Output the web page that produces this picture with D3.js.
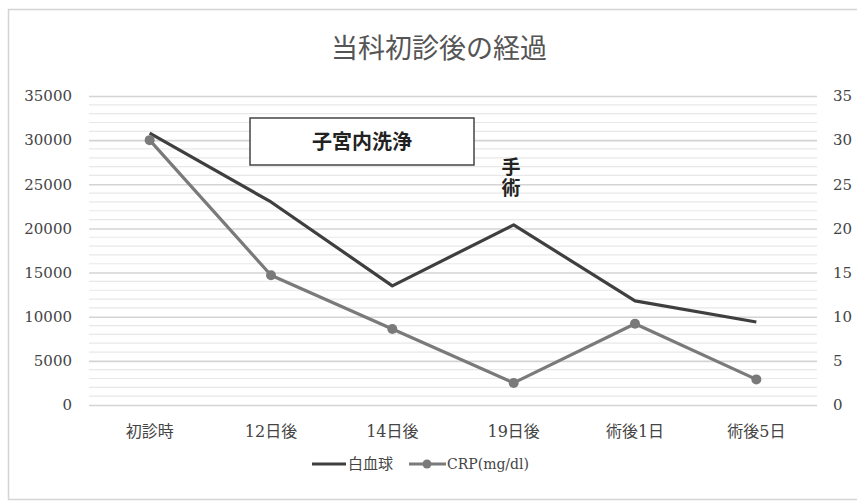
<!DOCTYPE html>
<html>
<head>
<meta charset="utf-8">
<script src="https://cdn.jsdelivr.net/npm/d3@7"></script>
<style>
body { margin: 0; background: #fff; }
text { font-family: "DejaVu Serif", "Noto Sans CJK JP", serif; }
</style>
</head>
<body>
<script>
//Width and height
var w = 857;
var h = 502;

var categories = ["初診時", "12日後", "14日後", "19日後", "術後1日", "術後5日"];
var wbc = [30800, 23000, 13500, 20400, 11800, 9400];
var crp = [30.0, 14.7, 8.6, 2.5, 9.2, 2.9];
var leftTicks = [0, 5000, 10000, 15000, 20000, 25000, 30000, 35000];
var rightTicks = [0, 5, 10, 15, 20, 25, 30, 35];
var minorTicks = d3.range(0, 35001, 1000);

var x = d3.scaleBand()
    .domain(categories)
    .range([89, 817]);

var yL = d3.scaleLinear()
    .domain([0, 35000])
    .range([405, 96]);

var yR = d3.scaleLinear()
    .domain([0, 35])
    .range([405, 96]);

var svg = d3.select("body")
            .append("svg")
            .attr("width", w)
            .attr("height", h);

//outer chart border
svg.append("rect")
   .attr("x", 8.5).attr("y", 9.5)
   .attr("width", 860).attr("height", 490)
   .attr("fill", "#fff")
   .attr("stroke", "#d4d4d4")
   .attr("stroke-width", 1.5);

//minor gridlines
svg.append("g")
   .selectAll("line")
   .data(minorTicks.filter(function(d){ return d % 5000 != 0; }))
   .enter()
   .append("line")
   .attr("x1", 89).attr("x2", 817)
   .attr("y1", function(d){ return yL(d); })
   .attr("y2", function(d){ return yL(d); })
   .attr("stroke", "#e8e8e8")
   .attr("stroke-width", 1.2);

//left axis with major gridlines
var axL = svg.append("g")
   .attr("transform", "translate(89,0)")
   .call(d3.axisLeft(yL).tickValues(leftTicks).tickFormat(d3.format("d")).tickSize(-728).tickPadding(17));
axL.select(".domain").remove();
axL.selectAll("line").attr("stroke", "#d4d4d4").attr("stroke-width", 1.6);
axL.selectAll("text")
   .attr("fill", "#444")
   .style("font-size", "15px");

//right axis labels
var axR = svg.append("g")
   .attr("transform", "translate(817,0)")
   .call(d3.axisRight(yR).tickValues(rightTicks).tickSize(0).tickPadding(16));
axR.select(".domain").remove();
axR.selectAll("text")
   .attr("fill", "#444")
   .style("font-size", "15px");

//category labels
var axX = svg.append("g")
   .attr("transform", "translate(0,405)")
   .call(d3.axisBottom(x).tickSize(0).tickPadding(21));
axX.select(".domain").remove();
axX.selectAll("text")
   .attr("fill", "#444")
   .style("font-size", "16px");

var cx = function(d, i){ return x(categories[i]) + x.bandwidth() / 2; };

//白血球 line
svg.append("path")
   .datum(wbc)
   .attr("fill", "none")
   .attr("stroke", "#3f3f3f")
   .attr("stroke-width", 3.2)
   .attr("stroke-linejoin", "round")
   .attr("d", d3.line().x(cx).y(function(d){ return yL(d); }));

//CRP line
svg.append("path")
   .datum(crp)
   .attr("fill", "none")
   .attr("stroke", "#7a7a7a")
   .attr("stroke-width", 3.2)
   .attr("stroke-linejoin", "round")
   .attr("d", d3.line().x(cx).y(function(d){ return yR(d); }));

svg.selectAll("circle.crp")
   .data(crp)
   .enter()
   .append("circle")
   .attr("class", "crp")
   .attr("cx", cx)
   .attr("cy", function(d){ return yR(d); })
   .attr("r", 5)
   .attr("fill", "#7a7a7a");

//title
svg.append("text")
   .attr("x", 439).attr("y", 58)
   .attr("text-anchor", "middle")
   .attr("fill", "#555")
   .style("font-size", "27px")
   .text("当科初診後の経過");

//annotation box
svg.append("rect")
   .attr("x", 250).attr("y", 118)
   .attr("width", 224).attr("height", 47)
   .attr("fill", "#fff")
   .attr("stroke", "#444")
   .attr("stroke-width", 1.5);
svg.append("text")
   .attr("x", 362).attr("y", 149)
   .attr("text-anchor", "middle")
   .attr("fill", "#222")
   .style("font-size", "20px")
   .style("font-weight", "bold")
   .text("子宮内洗浄");

//手術 vertical label
svg.selectAll("text.op")
   .data(["手", "術"])
   .enter()
   .append("text")
   .attr("class", "op")
   .attr("x", 511)
   .attr("y", function(d, i){ return 174 + i * 21; })
   .attr("text-anchor", "middle")
   .attr("fill", "#222")
   .style("font-size", "19px")
   .style("font-weight", "bold")
   .text(function(d){ return d; });

//legend
var lg = svg.append("g").attr("transform", "translate(0,464)");
lg.append("line")
   .attr("x1", 312).attr("x2", 346)
   .attr("stroke", "#3f3f3f").attr("stroke-width", 3.2);
lg.append("text")
   .attr("x", 348).attr("y", 5)
   .attr("fill", "#444")
   .style("font-size", "15px")
   .text("白血球");
lg.append("line")
   .attr("x1", 409).attr("x2", 446)
   .attr("stroke", "#7a7a7a").attr("stroke-width", 3.2);
lg.append("circle")
   .attr("cx", 427).attr("r", 4.5)
   .attr("fill", "#7a7a7a");
lg.append("text")
   .attr("x", 447).attr("y", 5)
   .attr("fill", "#444")
   .style("font-size", "14px")
   .text("CRP(mg/dl)");
</script>
</body>
</html>
